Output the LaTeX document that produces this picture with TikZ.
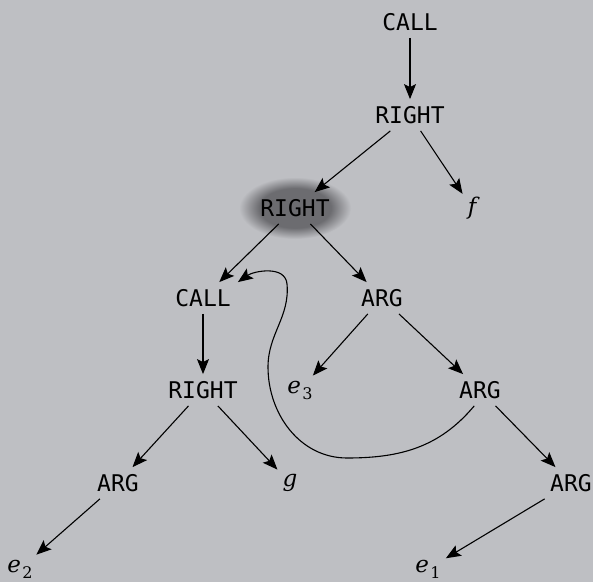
\documentclass[tikz,border=0pt]{standalone}
\usepackage{fontspec}
\newfontfamily\codefont{DejaVu Sans Mono}
\newfontfamily\varfont{DejaVu Serif}
\usetikzlibrary{arrows.meta}
\definecolor{bg}{RGB}{190,191,195}
\definecolor{blobc}{RGB}{108,108,112}
\pgfdeclareradialshading{blob}{\pgfpoint{0bp}{0bp}}{color(0bp)=(blobc); color(16bp)=(blobc); color(25bp)=(bg); color(50bp)=(bg)}
\newcommand{\vsub}[2]{#1\kern1.5pt\raisebox{-6pt}{\fontsize{16}{18}\selectfont\upshape #2}}
\begin{document}
\begin{tikzpicture}[x=1pt,y=1pt,
  kw/.style={font=\codefont\fontsize{23}{26}\selectfont, inner sep=7pt},
  mt/.style={font=\varfont\itshape\fontsize{23}{26}\selectfont, inner sep=5pt},
  link/.style={-{Stealth[length=15pt,width=12pt,inset=3pt]}, line width=1.1pt},
]
\fill[bg] (0,0) rectangle (593,582);
\useasboundingbox (0,0) rectangle (593,582);
\clip (0,0) rectangle (593,582);
\shade[shading=blob] (295,374) ellipse (56 and 31);

\node[kw] (call1) at (410,560) {CALL};
\node[kw] (right1) at (410,467) {RIGHT};
\node[kw] (right2) at (295,374) {RIGHT};
\node[mt] (f) at (472,374) {f};
\node[kw] (call2) at (203,284) {CALL};
\node[kw] (arg1) at (382,284) {ARG};
\node[kw] (right3) at (203,192) {RIGHT};
\node[mt] (e3) at (300,192) {\vsub{e}{3}};
\node[kw] (arg2) at (480,192) {ARG};
\node[kw] (arg3) at (118,99) {ARG};
\node[mt] (g) at (290,99) {g};
\node[kw] (arg4) at (571,99) {ARG};
\node[mt] (e2) at (20,13) {\vsub{e}{2}};
\node[mt] (e1) at (428,13) {\vsub{e}{1}};

\draw[link] (call1) -- (right1);
\draw[link] (right1) -- (right2);
\draw[link] (right1) -- (f);
\draw[link] (right2) -- (call2);
\draw[link] (right2) -- (arg1);
\draw[link] (call2) -- (right3);
\draw[link] (arg1) -- (e3);
\draw[link] (arg1) -- (arg2);
\draw[link] (right3) -- (arg3);
\draw[link] (right3) -- (g);
\draw[link] (arg2) -- (arg4);
\draw[link] (arg3) -- (e2);
\draw[link] (arg4) -- (e1);
\draw[link] (arg2.250) to[out=230,in=0] (347,124) to[out=180,in=-90] (268,215) to[out=90,in=-85] (287,298) to[out=95,in=35] (call2.north east);
\end{tikzpicture}
\end{document}
